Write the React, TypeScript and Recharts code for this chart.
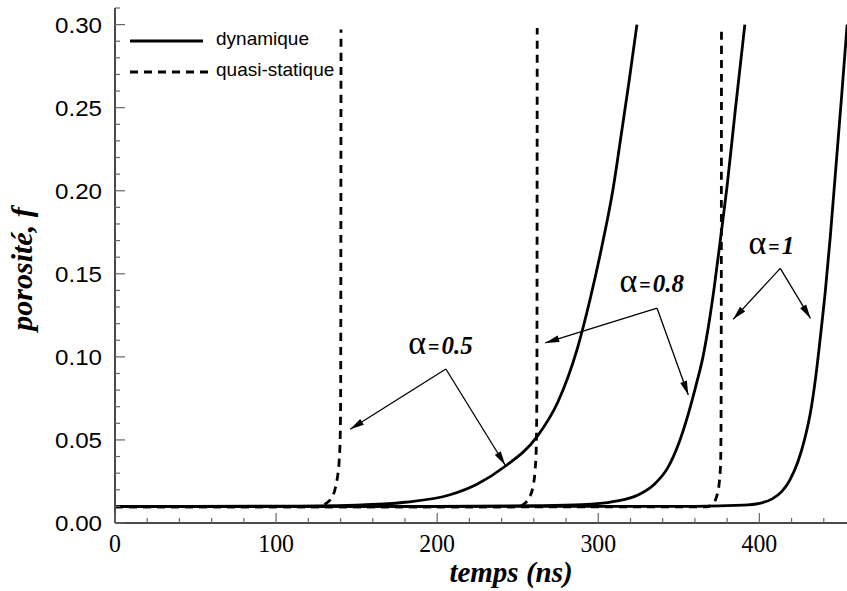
import React from 'react';
import { LineChart, Line, XAxis, YAxis, ReferenceLine, ReferenceDot, Legend } from 'recharts';

// courbes : [temps (ns), porosité f]
const dynamique05: [number, number][] = [
  [0, 0.01], [100, 0.0101], [150, 0.0108], [180, 0.0125], [208, 0.017], [225, 0.0235],
  [242, 0.034], [262, 0.052], [275, 0.073], [287, 0.105], [295, 0.135], [303, 0.17],
  [309, 0.2], [314, 0.232], [319, 0.265], [324, 0.3],
];
const dynamique08: [number, number][] = [
  [0, 0.01], [200, 0.01], [260, 0.0104], [290, 0.011], [310, 0.013], [325, 0.017],
  [335, 0.0235], [343, 0.033], [350, 0.048], [356, 0.066], [361, 0.084], [365, 0.1],
  [369, 0.122], [372, 0.142], [376, 0.172], [380, 0.203], [385, 0.248], [391, 0.3],
];
const dynamique1: [number, number][] = [
  [0, 0.01], [360, 0.01], [390, 0.0107], [400, 0.0118], [408, 0.0145], [414, 0.019],
  [419, 0.026], [424, 0.037], [428, 0.05], [432, 0.068], [435, 0.088], [438, 0.113],
  [441, 0.14], [444, 0.172], [448, 0.22], [451, 0.256], [454.5, 0.3],
];
const quasi05: [number, number][] = [
  [0, 0.01], [128, 0.01], [131, 0.0118], [134, 0.0145], [136.5, 0.02], [138, 0.027],
  [139.2, 0.038], [139.8, 0.052], [140.1, 0.08], [140.3, 0.297],
];
const quasi08: [number, number][] = [
  [0, 0.0097], [250, 0.0097], [254, 0.0115], [257, 0.015], [259.5, 0.022], [260.8, 0.032],
  [261.5, 0.045], [261.9, 0.08], [262.1, 0.298],
];
const quasi1: [number, number][] = [
  [0, 0.0097], [367, 0.0097], [371, 0.0115], [373.5, 0.016], [375.2, 0.025], [376, 0.038],
  [376.3, 0.08], [376.5, 0.298],
];

const legendNames = ['dynamique', 'quasi-statique'];

// annotations alpha : texte + flèches (sommet -> pointe), en coordonnées des données
const alphaLabels = [
  { value: '0.5', t: 182, f: 0.1017 },
  { value: '0.8', t: 313.2, f: 0.1393 },
  { value: '1', t: 393.2, f: 0.162 },
];
const arrows = [
  { from: [205.4, 0.0927], to: [146, 0.0564] },
  { from: [205.4, 0.0927], to: [242.2, 0.0349] },
  { from: [336.5, 0.1293], to: [267.1, 0.1084] },
  { from: [336.5, 0.1293], to: [355.9, 0.0771] },
  { from: [413, 0.1533], to: [383.7, 0.1226] },
  { from: [413, 0.1533], to: [431.7, 0.1232] },
];

const xTicks = Array.from({ length: 24 }, (_, i) => i * 20);
const yTicks = Array.from({ length: 32 }, (_, i) => i / 100);

const toPoints = (arr: [number, number][]) => arr.map(([t, f]) => ({ t, f }));

const AXIS = '#4a4a4a';
const TICK = '#666';

function XTick({ x, y, payload }: any) {
  const v = payload.value;
  const major = v % 100 === 0;
  const label = String(v);
  return (
    <g>
      <line x1={x} y1={y} x2={x} y2={y - (major ? 10 : 5)} stroke={TICK} strokeWidth={1.2} />
      {major && (
        <text
          x={x}
          y={y + 29}
          textAnchor="middle"
          fontFamily="Liberation Serif"
          fontSize={26}
          textLength={label.length * 11.9}
          lengthAdjust="spacingAndGlyphs"
          fill="#000"
        >
          {label}
        </text>
      )}
    </g>
  );
}

function YTick({ x, y, payload }: any) {
  const v = payload.value;
  const major = Math.round(v * 100) % 5 === 0;
  return (
    <g>
      <line x1={x} y1={y} x2={x + (major ? 10 : 5)} y2={y} stroke={TICK} strokeWidth={1.2} />
      {major && (
        <text
          x={x - 13}
          y={y + 8}
          textAnchor="end"
          fontFamily="Liberation Sans"
          fontSize={22}
          textLength={47}
          lengthAdjust="spacingAndGlyphs"
          fill="#000"
        >
          {v.toFixed(2)}
        </text>
      )}
    </g>
  );
}

function ArrowShape(props: any) {
  const { x1, y1, x2, y2 } = props;
  const ang = Math.atan2(y2 - y1, x2 - x1);
  const len = 14;
  const w = 3.5;
  const bx = x2 - len * Math.cos(ang);
  const by = y2 - len * Math.sin(ang);
  const px = -Math.sin(ang) * w;
  const py = Math.cos(ang) * w;
  return (
    <g>
      <line x1={x1} y1={y1} x2={x2} y2={y2} stroke="#000" strokeWidth={1.3} />
      <polygon points={`${x2},${y2} ${bx + px},${by + py} ${bx - px},${by - py}`} fill="#000" />
    </g>
  );
}

function AlphaText({ cx, cy, value }: any) {
  return (
    <text x={cx} y={cy} fill="#000">
      <tspan fontFamily="Liberation Serif" fontSize={34}>α</tspan>
      <tspan fontFamily="Liberation Serif" fontWeight="bold" fontSize={20} dx={2}>=</tspan>
      <tspan fontFamily="Liberation Serif" fontWeight="bold" fontStyle="italic" fontSize={25} dx={2}>
        {value}
      </tspan>
    </text>
  );
}

function renderLegend() {
  return (
    <svg width={240} height={60} style={{ display: 'block' }}>
      <line x1={10} y1={16} x2={83} y2={16} stroke="#000" strokeWidth={3} />
      <text x={96} y={19.5} fontFamily="Liberation Sans" fontSize={19} fill="#000">
        {legendNames[0]}
      </text>
      <line x1={10} y1={47} x2={88} y2={47} stroke="#000" strokeWidth={3} strokeDasharray="8 6" />
      <text x={96} y={50.5} fontFamily="Liberation Sans" fontSize={19} fill="#000">
        {legendNames[1]}
      </text>
    </svg>
  );
}

export default function App() {
  const series = [
    { data: dynamique05, dashed: false },
    { data: dynamique08, dashed: false },
    { data: dynamique1, dashed: false },
    { data: quasi05, dashed: true },
    { data: quasi08, dashed: true },
    { data: quasi1, dashed: true },
  ];

  return (
    <div
      style={{
        position: 'absolute',
        left: 0,
        top: 0,
        width: 847,
        height: 591,
        overflow: 'hidden',
        background: '#fff',
      }}
    >
      <LineChart width={856} height={591} margin={{ top: 8, right: 0, bottom: 0, left: 0 }}>
        <XAxis
          dataKey="t"
          type="number"
          domain={[0, 460]}
          ticks={xTicks}
          interval={0}
          allowDataOverflow
          height={68}
          tickSize={0}
          tickMargin={0}
          tickLine={false}
          axisLine={{ stroke: AXIS, strokeWidth: 2 }}
          tick={<XTick />}
          label={{
            content: ({ viewBox }: any) => (
              <text
                x={viewBox.x + 396}
                y={viewBox.y + 59}
                textAnchor="middle"
                fontFamily="Liberation Serif"
                fontStyle="italic"
                fontWeight="bold"
                fontSize={29}
                fill="#000"
              >
                temps (ns)
              </text>
            ),
          }}
        />
        <YAxis
          dataKey="f"
          type="number"
          domain={[0, 0.31]}
          ticks={yTicks}
          interval={0}
          allowDataOverflow
          width={115}
          tickSize={0}
          tickMargin={0}
          tickLine={false}
          axisLine={{ stroke: AXIS, strokeWidth: 2 }}
          tick={<YTick />}
          label={{
            content: () => (
              <text
                x={32}
                y={269}
                transform="rotate(-90 32 269)"
                textAnchor="middle"
                fontFamily="Liberation Serif"
                fontStyle="italic"
                fontWeight="bold"
                fontSize={30}
                fill="#000"
              >
                porosité, f
              </text>
            ),
          }}
        />
        <Legend
          layout="vertical"
          align="center"
          verticalAlign="middle"
          content={renderLegend}
          wrapperStyle={{ left: 120, top: 25, width: 240, height: 60 }}
        />
        {series.map((s, i) => (
          <Line
            key={i}
            data={toPoints(s.data)}
            dataKey="f"
            type="monotone"
            stroke="#000"
            strokeWidth={2.8}
            strokeDasharray={s.dashed ? '8 6' : undefined}
            dot={false}
            activeDot={false}
            isAnimationActive={false}
            legendType="none"
          />
        ))}
        {arrows.map((a, i) => (
          <ReferenceLine
            key={'a' + i}
            segment={[
              { x: a.from[0], y: a.from[1] },
              { x: a.to[0], y: a.to[1] },
            ]}
            shape={ArrowShape}
          />
        ))}
        {alphaLabels.map((l, i) => (
          <ReferenceDot
            key={'l' + i}
            x={l.t}
            y={l.f}
            r={0}
            shape={(p: any) => <AlphaText cx={p.cx} cy={p.cy} value={l.value} />}
          />
        ))}
      </LineChart>
    </div>
  );
}
